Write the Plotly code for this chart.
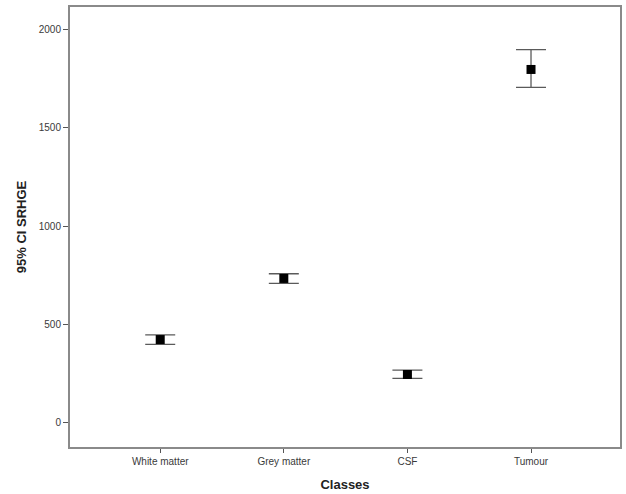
import plotly.graph_objects as go

classes = ["White matter", "Grey matter", "CSF", "Tumour"]
means = [422, 733, 244, 1797]
upper = [446, 757, 266, 1898]
lower = [397, 708, 224, 1706]

err_plus = [u - m for u, m in zip(upper, means)]
err_minus = [m - l for m, l in zip(means, lower)]

fig = go.Figure()
fig.add_trace(go.Scatter(
    x=classes, y=means, mode="markers",
    marker=dict(symbol="square", size=9, color="black"),
    error_y=dict(type="data", symmetric=False, array=err_plus, arrayminus=err_minus,
                 color="#5a5a5a", thickness=1.3, width=15),
    showlegend=False,
))

axis_font = dict(family="Liberation Sans, Arial, sans-serif", size=10, color="#3a3a3a")
title_font = dict(family="Liberation Sans, Arial, sans-serif", size=13, color="#222222")

fig.update_layout(
    width=626, height=494,
    margin=dict(l=70, r=6, t=7, b=47),
    paper_bgcolor="white", plot_bgcolor="white",
    xaxis=dict(
        range=[-0.73, 3.72], showgrid=False, zeroline=False, automargin=False,
        showline=True, linecolor="#8a8a8a", linewidth=2, mirror=True,
        ticks="outside", ticklen=4, tickcolor="#555555", tickwidth=1,
        tickfont=axis_font,
        title=dict(text="<b>Classes</b>", font=title_font, standoff=14),
    ),
    yaxis=dict(
        range=[-125, 2115], showgrid=False, zeroline=False, automargin=False,
        tickvals=[0, 500, 1000, 1500, 2000],
        showline=True, linecolor="#8a8a8a", linewidth=2, mirror=True,
        ticks="outside", ticklen=5, tickcolor="#555555", tickwidth=1,
        tickfont=axis_font,
        title=dict(text="<b>95% CI SRHGE</b>", font=title_font, standoff=9),
    ),
)

fig.write_html("out.html")
